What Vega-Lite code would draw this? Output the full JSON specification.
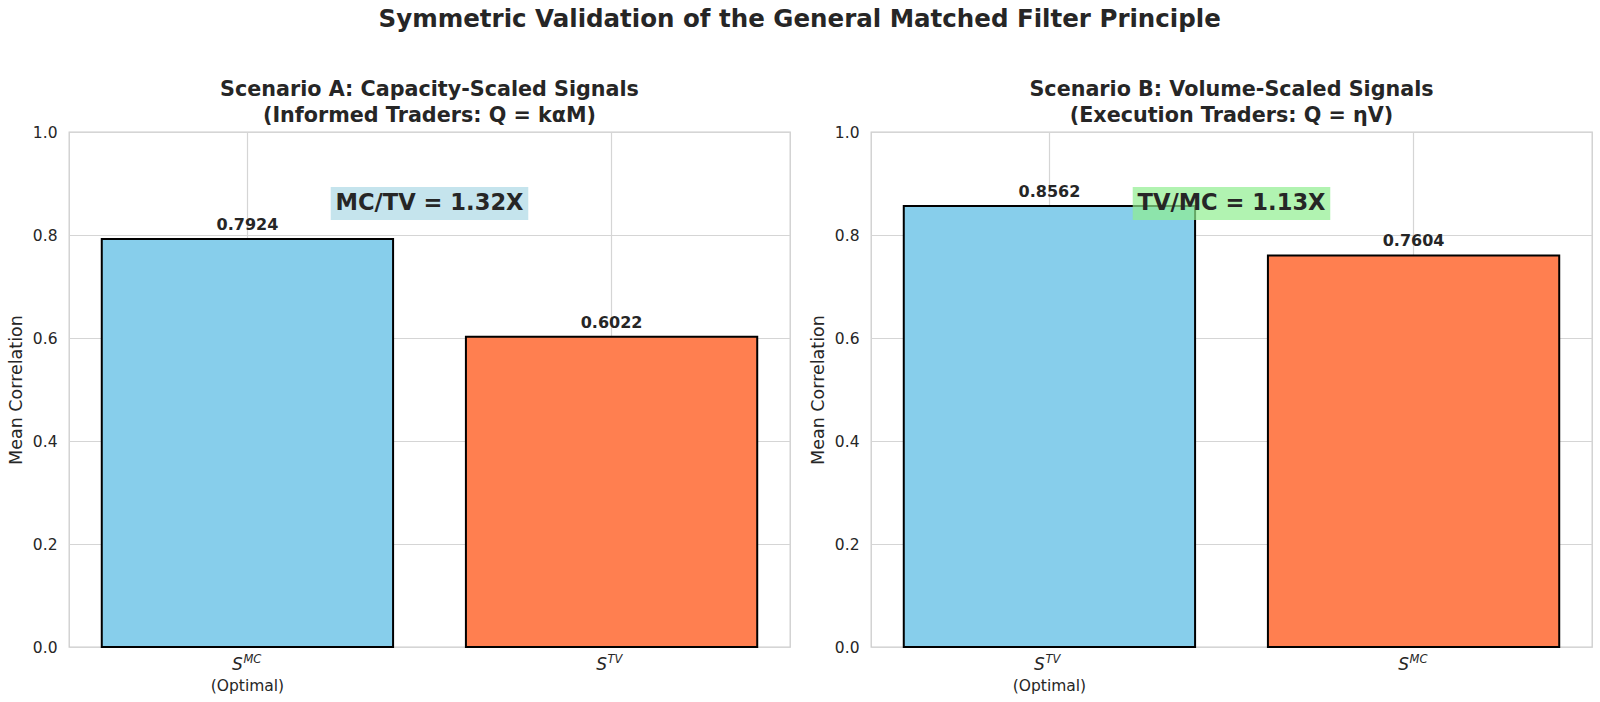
{
  "$schema": "https://vega.github.io/schema/vega-lite/v6.json",
  "padding": {"left": 6, "right": 8, "top": 7, "bottom": 5},
  "background": "white",
  "title": {
    "text": "Symmetric Validation of the General Matched Filter Principle",
    "fontSize": 24.5,
    "fontWeight": "bold",
    "color": "#262626",
    "anchor": "middle",
    "offset": 46
  },
  "spacing": 17,
  "hconcat": [
    {
      "width": 721,
      "height": 515,
      "title": {
        "text": ["Scenario A: Capacity-Scaled Signals", "(Informed Traders: Q = kαM)"],
        "fontSize": 20.7,
        "fontWeight": "bold",
        "color": "#262626",
        "lineHeight": 26,
        "frame": "group",
        "anchor": "middle",
        "offset": -2
      },
      "layer": [
        {
          "data": {
            "values": [
              {"signal": "MC", "value": 0.7924, "role": "Optimal", "note": "(Optimal)"},
              {"signal": "TV", "value": 0.6022, "role": "Alternative", "note": ""}
            ]
          },
          "encoding": {
            "x": {
              "field": "signal",
              "type": "nominal",
              "sort": null,
              "scale": {"paddingInner": 0.2, "paddingOuter": 0.09},
              "axis": {"labels": false, "ticks": false, "domain": false, "title": null, "grid": true, "bandPosition": 0.5}
            },
            "y": {
              "field": "value",
              "type": "quantitative",
              "scale": {"domain": [0, 1], "nice": false, "zero": true},
              "axis": {"values": [0, 0.2, 0.4, 0.6, 0.8, 1.0], "format": ".1f", "title": "Mean Correlation"}
            }
          },
          "layer": [
            {
              "mark": {"type": "bar", "stroke": "black", "strokeWidth": 2},
              "encoding": {
                "color": {
                  "field": "role",
                  "type": "nominal",
                  "scale": {"domain": ["Optimal", "Alternative"], "range": ["#87CEEB", "#FF7F50"]},
                  "legend": null
                }
              }
            },
            {
              "mark": {"type": "text", "fontSize": 16, "fontWeight": "bold", "color": "#262626", "baseline": "alphabetic", "dy": -9},
              "encoding": {"text": {"field": "value", "type": "quantitative", "format": ".4f"}}
            },
            {
              "mark": {"type": "text", "fontSize": 17, "fontStyle": "italic", "color": "#262626", "baseline": "middle", "align": "center", "dx": -10, "dy": 18},
              "encoding": {"y": {"datum": 0}, "text": {"value": "S"}}
            },
            {
              "mark": {"type": "text", "fontSize": 11.5, "fontStyle": "italic", "color": "#262626", "baseline": "middle", "align": "left", "dx": -4, "dy": 13},
              "encoding": {"y": {"datum": 0}, "text": {"field": "signal"}}
            },
            {
              "mark": {"type": "text", "fontSize": 15.5, "color": "#262626", "baseline": "middle", "align": "center", "dy": 39},
              "encoding": {"y": {"datum": 0}, "text": {"field": "note"}}
            }
          ]
        },
        {
          "data": {
            "values": [
              {"label": "MC/TV = 1.32X", "x": 0.5, "y": 0.862, "x0": 0.363, "x1": 0.637, "y0": 0.829, "y1": 0.893}
            ]
          },
          "layer": [
            {
              "mark": {"type": "rect", "fill": "#ADD8E6", "opacity": 0.7},
              "encoding": {
                "x": {"field": "x0", "type": "quantitative", "scale": {"domain": [0, 1], "nice": false}, "axis": null},
                "x2": {"field": "x1"},
                "y": {"field": "y0", "type": "quantitative"},
                "y2": {"field": "y1"}
              }
            },
            {
              "mark": {"type": "text", "fontSize": 22.6, "fontWeight": "bold", "color": "#262626", "baseline": "middle", "align": "center"},
              "encoding": {
                "x": {"field": "x", "type": "quantitative", "scale": {"domain": [0, 1], "nice": false}, "axis": null},
                "y": {"field": "y", "type": "quantitative"},
                "text": {"field": "label"}
              }
            }
          ]
        }
      ],
      "resolve": {"scale": {"x": "independent"}, "axis": {"x": "independent"}}
    },
    {
      "width": 721,
      "height": 515,
      "title": {
        "text": ["Scenario B: Volume-Scaled Signals", "(Execution Traders: Q = ηV)"],
        "fontSize": 20.7,
        "fontWeight": "bold",
        "color": "#262626",
        "lineHeight": 26,
        "frame": "group",
        "anchor": "middle",
        "offset": -2
      },
      "layer": [
        {
          "data": {
            "values": [
              {"signal": "TV", "value": 0.8562, "role": "Optimal", "note": "(Optimal)"},
              {"signal": "MC", "value": 0.7604, "role": "Alternative", "note": ""}
            ]
          },
          "encoding": {
            "x": {
              "field": "signal",
              "type": "nominal",
              "sort": null,
              "scale": {"paddingInner": 0.2, "paddingOuter": 0.09},
              "axis": {"labels": false, "ticks": false, "domain": false, "title": null, "grid": true, "bandPosition": 0.5}
            },
            "y": {
              "field": "value",
              "type": "quantitative",
              "scale": {"domain": [0, 1], "nice": false, "zero": true},
              "axis": {"values": [0, 0.2, 0.4, 0.6, 0.8, 1.0], "format": ".1f", "title": "Mean Correlation"}
            }
          },
          "layer": [
            {
              "mark": {"type": "bar", "stroke": "black", "strokeWidth": 2},
              "encoding": {
                "color": {
                  "field": "role",
                  "type": "nominal",
                  "scale": {"domain": ["Optimal", "Alternative"], "range": ["#87CEEB", "#FF7F50"]},
                  "legend": null
                }
              }
            },
            {
              "mark": {"type": "text", "fontSize": 16, "fontWeight": "bold", "color": "#262626", "baseline": "alphabetic", "dy": -9},
              "encoding": {"text": {"field": "value", "type": "quantitative", "format": ".4f"}}
            },
            {
              "mark": {"type": "text", "fontSize": 17, "fontStyle": "italic", "color": "#262626", "baseline": "middle", "align": "center", "dx": -10, "dy": 18},
              "encoding": {"y": {"datum": 0}, "text": {"value": "S"}}
            },
            {
              "mark": {"type": "text", "fontSize": 11.5, "fontStyle": "italic", "color": "#262626", "baseline": "middle", "align": "left", "dx": -4, "dy": 13},
              "encoding": {"y": {"datum": 0}, "text": {"field": "signal"}}
            },
            {
              "mark": {"type": "text", "fontSize": 15.5, "color": "#262626", "baseline": "middle", "align": "center", "dy": 39},
              "encoding": {"y": {"datum": 0}, "text": {"field": "note"}}
            }
          ]
        },
        {
          "data": {
            "values": [
              {"label": "TV/MC = 1.13X", "x": 0.5, "y": 0.862, "x0": 0.363, "x1": 0.637, "y0": 0.829, "y1": 0.893}
            ]
          },
          "layer": [
            {
              "mark": {"type": "rect", "fill": "#90EE90", "opacity": 0.7},
              "encoding": {
                "x": {"field": "x0", "type": "quantitative", "scale": {"domain": [0, 1], "nice": false}, "axis": null},
                "x2": {"field": "x1"},
                "y": {"field": "y0", "type": "quantitative"},
                "y2": {"field": "y1"}
              }
            },
            {
              "mark": {"type": "text", "fontSize": 22.6, "fontWeight": "bold", "color": "#262626", "baseline": "middle", "align": "center"},
              "encoding": {
                "x": {"field": "x", "type": "quantitative", "scale": {"domain": [0, 1], "nice": false}, "axis": null},
                "y": {"field": "y", "type": "quantitative"},
                "text": {"field": "label"}
              }
            }
          ]
        }
      ],
      "resolve": {"scale": {"x": "independent"}, "axis": {"x": "independent"}}
    }
  ],
  "config": {
    "font": "DejaVu Sans",
    "view": {"stroke": "#cccccc", "strokeWidth": 1.3},
    "axis": {
      "gridColor": "#d5d5d5",
      "gridWidth": 1.2,
      "labelFontSize": 15.5,
      "labelColor": "#262626",
      "titleFontSize": 17.5,
      "titleFontWeight": "normal",
      "titleColor": "#262626",
      "domain": false
    },
    "axisY": {"ticks": false, "tickSize": 0, "labelPadding": 12, "titlePadding": 7}
  }
}
